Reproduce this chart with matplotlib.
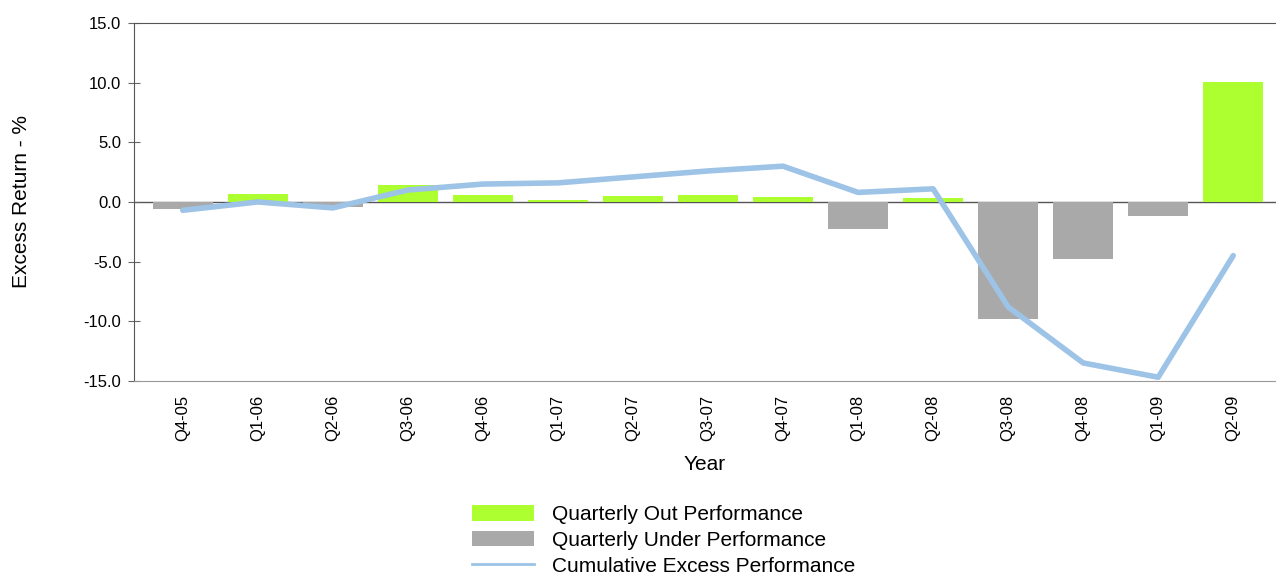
import matplotlib
matplotlib.use("Agg")
import matplotlib.pyplot as plt
from matplotlib.patches import Patch
from matplotlib.lines import Line2D

plt.rcParams["font.family"] = ["Liberation Sans", "DejaVu Sans"]

quarters = ["Q4-05", "Q1-06", "Q2-06", "Q3-06", "Q4-06", "Q1-07", "Q2-07", "Q3-07",
            "Q4-07", "Q1-08", "Q2-08", "Q3-08", "Q4-08", "Q1-09", "Q2-09"]
quarterly = [-0.6, 0.7, -0.4, 1.4, 0.6, 0.15, 0.5, 0.55, 0.4, -2.3, 0.3, -9.8, -4.8, -1.2, 10.1]
cumulative = [-0.7, 0.0, -0.5, 1.0, 1.5, 1.6, 2.1, 2.6, 3.0, 0.8, 1.1, -8.8, -13.5, -14.7, -4.5]

GREEN = "#adff2f"
GRAY = "#a9a9a9"
BLUE = "#9dc3e6"

fig = plt.figure(figsize=(12.76, 5.77), dpi=100)
ax = fig.add_axes([0.105, 0.34, 0.895, 0.62])

x = list(range(len(quarters)))
colors = [GREEN if v >= 0 else GRAY for v in quarterly]
ax.bar(x, quarterly, width=0.8, color=colors, zorder=2)
ax.axhline(0, color="#555555", lw=1, zorder=1)
ax.plot(x, cumulative, color=BLUE, lw=4, solid_capstyle="round", zorder=3)

ax.set_xlim(-0.65, 14.57)
ax.set_ylim(-15, 15)
ax.set_yticks([-15, -10, -5, 0, 5, 10, 15])
ax.set_yticklabels([f"{v:.1f}" for v in [-15, -10, -5, 0, 5, 10, 15]], fontsize=12)
ax.set_xticks(x)
ax.set_xticklabels(quarters, rotation=90, fontsize=12)
ax.tick_params(axis="x", length=0, pad=10)
ax.tick_params(axis="y", direction="inout", length=8, color="#666666", pad=5)

for s in ["left", "bottom", "top"]:
    ax.spines[s].set_color("#555555")
ax.spines["bottom"].set_color("#999999")
ax.spines["right"].set_visible(False)

ax.set_ylabel("Excess Return - %", fontsize=15, labelpad=38)
ax.set_xlabel("Year", fontsize=15, labelpad=10)

handles = [
    Patch(facecolor=GREEN, label="Quarterly Out Performance"),
    Patch(facecolor=GRAY, label="Quarterly Under Performance"),
    Line2D([0], [0], color=BLUE, lw=2, label="Cumulative Excess Performance"),
]
fig.legend(handles=handles, loc="lower center", bbox_to_anchor=(0.52, -0.03),
           frameon=False, fontsize=15, handlelength=3.0, handleheight=0.75,
           handletextpad=0.85, labelspacing=0.32)

fig.savefig("out.png", dpi=100)
